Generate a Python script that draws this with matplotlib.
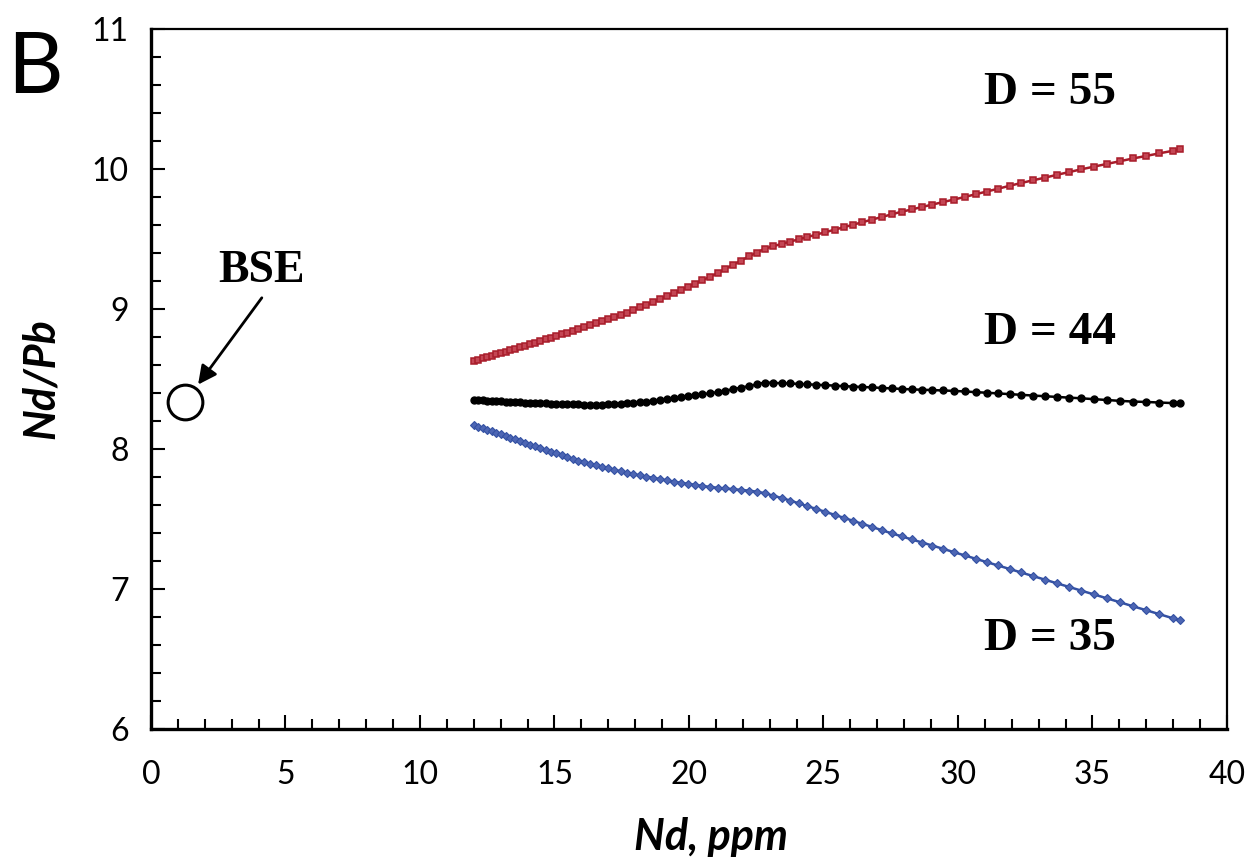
import matplotlib
matplotlib.use("Agg")
import matplotlib.pyplot as plt
from matplotlib.ticker import MultipleLocator

# Nd (ppm) steps of the melting model, shared by the three curves
nd = [12.00, 12.16, 12.33, 12.49, 12.66, 12.83, 13.00, 13.18, 13.36, 13.54,
      13.72, 13.90, 14.09, 14.28, 14.47, 14.67, 14.86, 15.06, 15.27, 15.47,
      15.68, 15.89, 16.11, 16.33, 16.55, 16.77, 17.00, 17.22, 17.46, 17.69,
      17.93, 18.17, 18.42, 18.67, 18.92, 19.17, 19.43, 19.69, 19.96, 20.23,
      20.50, 20.78, 21.06, 21.34, 21.63, 21.92, 22.22, 22.52, 22.82, 23.13,
      23.44, 23.76, 24.08, 24.40, 24.73, 25.07, 25.41, 25.75, 26.10, 26.45,
      26.81, 27.17, 27.53, 27.91, 28.28, 28.67, 29.05, 29.45, 29.85, 30.25,
      30.66, 31.07, 31.49, 31.92, 32.35, 32.78, 33.23, 33.67, 34.13, 34.59,
      35.06, 35.53, 36.01, 36.50, 36.99, 37.49, 37.99, 38.25]

ndpb_d55 = [8.630, 8.639, 8.649, 8.658, 8.667, 8.677, 8.686, 8.696, 8.706, 8.717,
            8.727, 8.737, 8.748, 8.759, 8.771, 8.783, 8.794, 8.806, 8.818, 8.830,
            8.843, 8.856, 8.870, 8.884, 8.898, 8.913, 8.927, 8.942, 8.957, 8.972,
            8.991, 9.011, 9.031, 9.051, 9.071, 9.091, 9.113, 9.135, 9.158, 9.182,
            9.205, 9.230, 9.256, 9.285, 9.315, 9.344, 9.375, 9.403, 9.431, 9.448,
            9.465, 9.481, 9.498, 9.514, 9.531, 9.549, 9.566, 9.584, 9.602, 9.620,
            9.639, 9.657, 9.676, 9.695, 9.711, 9.729, 9.746, 9.764, 9.782, 9.800,
            9.820, 9.839, 9.859, 9.880, 9.900, 9.919, 9.938, 9.958, 9.978, 9.998,
            10.017, 10.036, 10.055, 10.075, 10.093, 10.112, 10.130, 10.140]

ndpb_d44 = [8.350, 8.348, 8.347, 8.345, 8.344, 8.342, 8.340, 8.338, 8.337, 8.335,
            8.333, 8.331, 8.330, 8.329, 8.327, 8.326, 8.325, 8.324, 8.322, 8.321,
            8.320, 8.318, 8.317, 8.316, 8.316, 8.317, 8.319, 8.322, 8.325, 8.328,
            8.331, 8.335, 8.339, 8.345, 8.351, 8.357, 8.364, 8.370, 8.377, 8.384,
            8.391, 8.398, 8.406, 8.416, 8.427, 8.438, 8.449, 8.462, 8.475, 8.472,
            8.470, 8.468, 8.465, 8.462, 8.459, 8.456, 8.453, 8.449, 8.446, 8.443,
            8.440, 8.436, 8.433, 8.429, 8.426, 8.423, 8.421, 8.418, 8.415, 8.411,
            8.406, 8.402, 8.397, 8.392, 8.387, 8.382, 8.377, 8.372, 8.367, 8.362,
            8.356, 8.350, 8.344, 8.339, 8.336, 8.332, 8.328, 8.326]

ndpb_d35 = [8.171, 8.160, 8.149, 8.138, 8.127, 8.115, 8.104, 8.092, 8.080, 8.068,
            8.056, 8.043, 8.031, 8.019, 8.007, 7.994, 7.982, 7.969, 7.955, 7.942,
            7.929, 7.917, 7.906, 7.895, 7.884, 7.874, 7.863, 7.852, 7.840, 7.829,
            7.820, 7.812, 7.803, 7.794, 7.785, 7.776, 7.766, 7.759, 7.751, 7.744,
            7.736, 7.729, 7.723, 7.718, 7.713, 7.708, 7.703, 7.695, 7.684, 7.667,
            7.650, 7.632, 7.612, 7.592, 7.572, 7.551, 7.530, 7.509, 7.487, 7.465,
            7.443, 7.420, 7.398, 7.376, 7.354, 7.332, 7.310, 7.287, 7.263, 7.240,
            7.216, 7.192, 7.168, 7.143, 7.118, 7.093, 7.067, 7.041, 7.015, 6.988,
            6.961, 6.934, 6.906, 6.877, 6.849, 6.820, 6.791, 6.776]

bse_nd = 1.26
bse_ndpb = 8.336

labels = ["D = 55", "D = 44", "D = 35"]
label_pos = [(30.97, 10.54), (30.97, 8.83), (30.97, 6.64)]

plt.rcParams['font.family'] = ['Lato', 'DejaVu Sans']

fig = plt.figure(figsize=(12.51, 8.6), dpi=100)
ax = fig.add_axes([0.1207, 0.1523, 0.8601, 0.8140])

ax.plot(nd, ndpb_d55, color="#a81c2a", lw=1.8, marker="s", ms=4.8,
        mfc="#c44654", mec="#a81c2a", mew=1.1)
ax.plot(nd, ndpb_d44, color="black", lw=1.8, marker="o", ms=5,
        mfc="black", mec="black")
ax.plot(nd, ndpb_d35, color="#3451a3", lw=1.8, marker="D", ms=3.8,
        mfc="#4d66b4", mec="#3451a3", mew=0.8)

# BSE point
ax.plot([bse_nd], [bse_ndpb], marker="o", ms=25, mfc="white", mec="black",
        mew=2.2, ls="none")
ax.annotate("", xy=(1.75, 8.46), xytext=(4.12, 9.08),
            arrowprops=dict(arrowstyle="-|>", color="black", lw=2,
                            mutation_scale=28, shrinkA=0, shrinkB=0))
ax.text(4.12, 9.27, "BSE", family="Liberation Serif", fontweight="bold",
        fontsize=33, ha="center", va="center")

for txt, (tx, ty) in zip(labels, label_pos):
    ax.text(tx, ty, txt, family="Liberation Serif", fontweight="bold",
            fontsize=34, ha="left", va="center")

ax.set_xlim(0, 40)
ax.set_ylim(6, 11)
ax.xaxis.set_major_locator(MultipleLocator(5))
ax.xaxis.set_minor_locator(MultipleLocator(1))
ax.yaxis.set_major_locator(MultipleLocator(1))
ax.yaxis.set_minor_locator(MultipleLocator(0.2))
ax.tick_params(which="both", direction="in", top=False, right=False,
               width=1.5, labelsize=23)
ax.tick_params(axis="x", which="major", length=10, pad=22)
ax.tick_params(axis="x", which="minor", length=7)
ax.tick_params(axis="y", which="major", length=10, pad=16)
ax.tick_params(axis="y", which="minor", length=7)

for s in ["left", "bottom"]:
    ax.spines[s].set_linewidth(2.4)
for s in ["top", "right"]:
    ax.spines[s].set_linewidth(1.6)

ax.set_xlabel("Nd, ppm", fontsize=31, fontweight="bold", style="italic")
ax.xaxis.set_label_coords(0.52, -0.125)
ax.set_ylabel("Nd/Pb", fontsize=31, fontweight="bold", style="italic",
              labelpad=22)

fig.text(0.006, 0.965, "B", fontsize=62, ha="left", va="top")

fig.savefig("out.png", dpi=100)
